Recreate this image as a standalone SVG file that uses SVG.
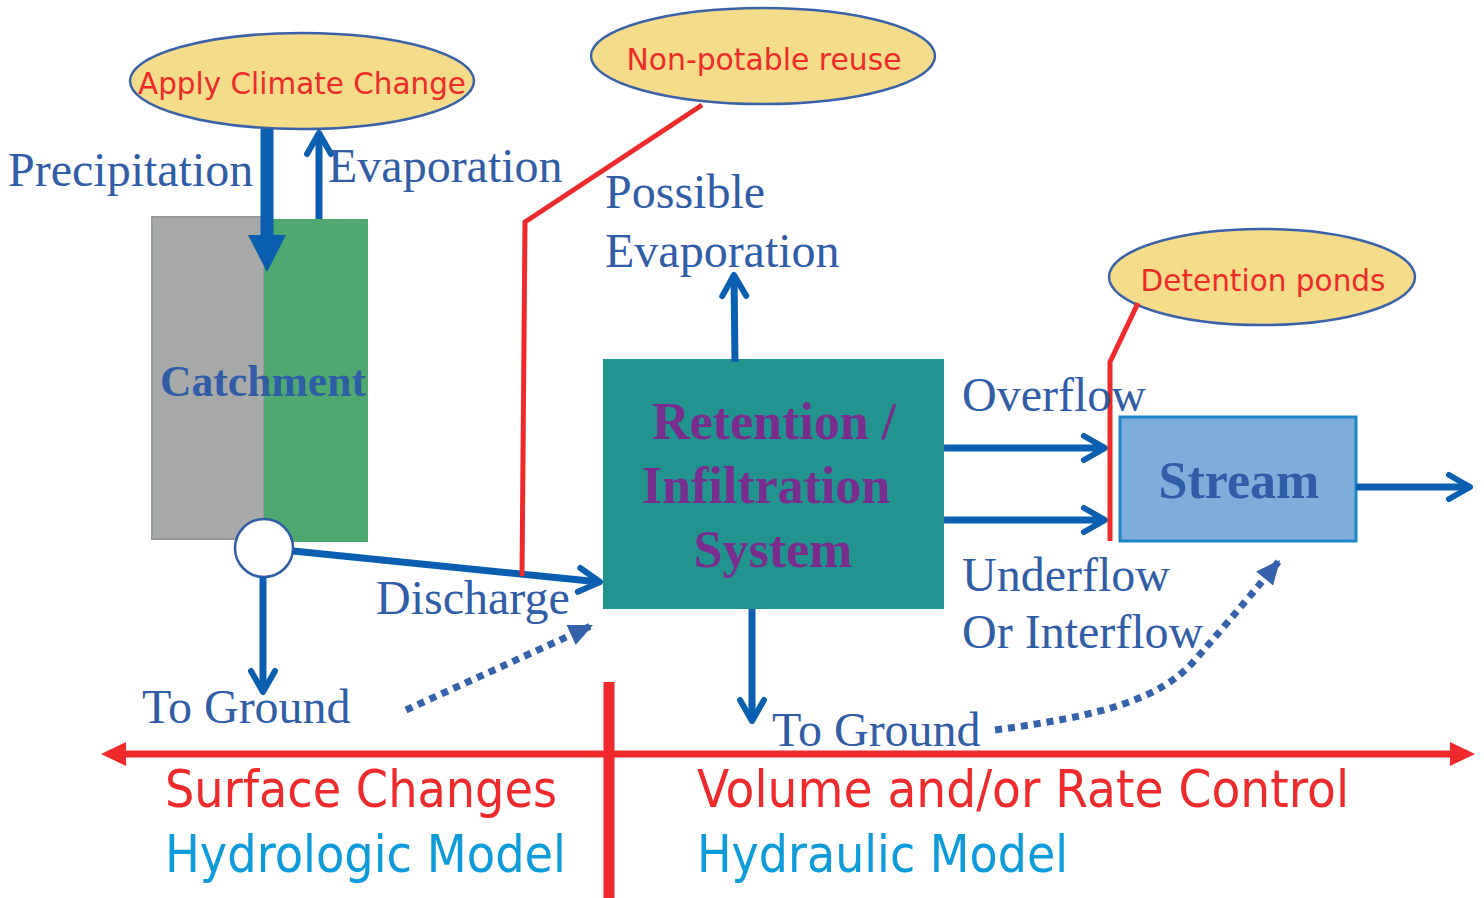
<svg xmlns="http://www.w3.org/2000/svg" width="1484" height="898" viewBox="0 0 1484 898">
<style>
.serif{font-family:"Liberation Serif","Times New Roman",serif;fill:#2F5DA8;}
.lbl{font-size:48px;}
.bold{font-weight:bold;}
.sans{font-family:"DejaVu Sans","Verdana",sans-serif;}
.oval{fill:#F5DC8A;stroke:#3A62A8;stroke-width:2.5;}
.ovaltxt{fill:#EE2A2A;font-size:31px;}
.flow{stroke:#0B5FB0;fill:none;stroke-width:7;}
.dot{stroke:#3562AC;fill:none;stroke-width:7;stroke-dasharray:7 6;}
.red{stroke:#EE2A2A;fill:none;stroke-width:5;}
</style>
<defs>
<marker id="chev" viewBox="-26 -16 30 32" refX="0" refY="0" markerUnits="userSpaceOnUse" markerWidth="30" markerHeight="32" orient="auto">
<path d="M -21 -12 L 0 0 L -21 12" fill="none" stroke="#0B5FB0" stroke-width="6" stroke-linecap="round" stroke-linejoin="round"/>
</marker>
<marker id="tri" viewBox="-26 -14 28 28" refX="0" refY="0" markerUnits="userSpaceOnUse" markerWidth="28" markerHeight="28" orient="auto">
<path d="M -24 -11 L 0 0 L -24 11 Z" fill="#3562AC"/>
</marker>
</defs>
<rect width="1484" height="898" fill="#FFFFFF"/>

<g id="catchment">
<rect x="152" y="217" width="112" height="322" fill="#A7A9A8" stroke="#999999" stroke-width="2"/>
<rect x="264" y="219" width="104" height="323" fill="#4FA86F"/>
<text class="serif bold" x="160" y="396" font-size="44" textLength="206" lengthAdjust="spacingAndGlyphs">Catchment</text>
</g>

<g id="junction">
<circle cx="264" cy="548" r="29" fill="#FFFFFF" stroke="#2F5DA8" stroke-width="2.5"/>
</g>

<g id="climate">
<ellipse class="oval" cx="302" cy="81" rx="172" ry="48"/>
<text class="sans ovaltxt" x="302" y="94" text-anchor="middle" textLength="328" lengthAdjust="spacingAndGlyphs">Apply Climate Change</text>
</g>

<g id="nonpotable">
<ellipse class="oval" cx="763" cy="56" rx="172" ry="48"/>
<text class="sans ovaltxt" x="764" y="70" text-anchor="middle" textLength="275" lengthAdjust="spacingAndGlyphs">Non-potable reuse</text>
</g>

<g id="detention">
<ellipse class="oval" cx="1262" cy="277" rx="153" ry="48"/>
<text class="sans ovaltxt" x="1263" y="291" text-anchor="middle" textLength="245" lengthAdjust="spacingAndGlyphs">Detention ponds</text>
</g>

<g id="retention">
<rect x="603" y="359" width="341" height="250" fill="#21948F"/>
<g class="serif bold" style="fill:#7B2D8E" font-size="52" text-anchor="middle">
<text x="774" y="439">Retention /</text>
<text x="766" y="503">Infiltration</text>
<text x="773" y="567">System</text>
</g>
</g>

<g id="stream">
<rect x="1120" y="417" width="236" height="124" fill="#7EADDA" stroke="#1E86C8" stroke-width="3"/>
<text class="serif bold" x="1239" y="498" font-size="52" text-anchor="middle">Stream</text>
</g>

<g id="connectors">
<line x1="267" y1="129" x2="267" y2="238" stroke="#0B5FB0" stroke-width="13"/>
<polygon points="248,235 286,235 267,272" fill="#0B5FB0"/>
<line class="flow" x1="319" y1="219" x2="319" y2="133" stroke-width="6" marker-end="url(#chev)"/>
<line class="flow" x1="293" y1="551" x2="600" y2="582" marker-end="url(#chev)"/>
<line class="flow" x1="263" y1="577" x2="263" y2="692" stroke-width="6" marker-end="url(#chev)"/>
<line class="flow" x1="735" y1="362" x2="734" y2="275" stroke-width="6" marker-end="url(#chev)"/>
<line class="flow" x1="752" y1="609" x2="752" y2="721" stroke-width="6" marker-end="url(#chev)"/>
<line class="flow" x1="944" y1="448" x2="1105" y2="448" marker-end="url(#chev)"/>
<line class="flow" x1="944" y1="520" x2="1105" y2="520" marker-end="url(#chev)"/>
<line class="flow" x1="1356" y1="487" x2="1470" y2="487" marker-end="url(#chev)"/>
<line class="dot" x1="406" y1="710" x2="593" y2="625" marker-end="url(#tri)"/>
<path class="dot" d="M 995 730 C 1100 716 1160 700 1195 660 S 1255 590 1280 560" marker-end="url(#tri)"/>
<polyline class="red" points="702,105 525,222 522,576"/>
<polyline class="red" points="1138,303 1110,362 1110,541"/>
</g>

<g id="divider">
<line x1="120" y1="754" x2="1456" y2="754" stroke="#EE2A2A" stroke-width="7"/>
<polygon points="101,754 126,742 126,766" fill="#EE2A2A"/>
<polygon points="1475,754 1450,742 1450,766" fill="#EE2A2A"/>
<line x1="609" y1="682" x2="609" y2="898" stroke="#EE2A2A" stroke-width="11"/>
</g>

<g id="labels">
<text class="serif lbl" x="8" y="186">Precipitation</text>
<text class="serif lbl" x="328" y="182">Evaporation</text>
<text class="serif lbl" x="605" y="208">Possible</text>
<text class="serif lbl" x="605" y="267">Evaporation</text>
<text class="serif lbl" x="376" y="614">Discharge</text>
<text class="serif lbl" x="142" y="723">To Ground</text>
<text class="serif lbl" x="772" y="746">To Ground</text>
<text class="serif lbl" x="962" y="411">Overflow</text>
<text class="serif lbl" x="962" y="591">Underflow</text>
<text class="serif lbl" x="962" y="648">Or Interflow</text>
<text class="sans" x="165" y="807" font-size="52" fill="#EE2A2A" textLength="392" lengthAdjust="spacingAndGlyphs">Surface Changes</text>
<text class="sans" x="165" y="872" font-size="52" fill="#0E9BDB" textLength="401" lengthAdjust="spacingAndGlyphs">Hydrologic Model</text>
<text class="sans" x="697" y="807" font-size="52" fill="#EE2A2A" textLength="652" lengthAdjust="spacingAndGlyphs">Volume and/or Rate Control</text>
<text class="sans" x="697" y="872" font-size="52" fill="#0E9BDB" textLength="371" lengthAdjust="spacingAndGlyphs">Hydraulic Model</text>
</g>
</svg>
